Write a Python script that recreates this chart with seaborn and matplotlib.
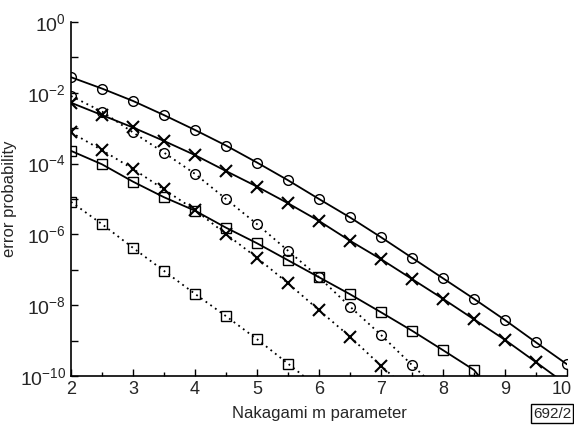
import numpy as np
import pandas as pd
import seaborn as sns
import matplotlib.pyplot as plt
from matplotlib.ticker import FixedLocator, FuncFormatter
from matplotlib.transforms import ScaledTranslation

# Nakagami m values
m_full = [2, 2.5, 3, 3.5, 4, 4.5, 5, 5.5, 6, 6.5, 7, 7.5, 8, 8.5, 9, 9.5, 10]

# log10 of the error probability
solid_circle = [-1.56, -1.88, -2.23, -2.63, -3.05, -3.49, -3.97, -4.47, -5.0,
                -5.52, -6.08, -6.66, -7.24, -7.82, -8.42, -9.05, -9.67]
solid_cross = [-2.28, -2.63, -2.98, -3.36, -3.76, -4.21, -4.65, -5.12, -5.62,
               -6.18, -6.70, -7.26, -7.82, -8.40, -8.98, -9.61, -10.25]
solid_square = [-3.64, -4.02, -4.51, -4.95, -5.33, -5.81, -6.25, -6.73, -7.21,
                -7.69, -8.20, -8.72, -9.27, -9.83, -10.9]
dotted_circle = [-2.09, -2.53, -3.12, -3.69, -4.29, -5.0, -5.71, -6.46, -7.21,
                 -8.04, -8.84, -9.69, -10.5]
dotted_cross = [-3.12, -3.62, -4.15, -4.73, -5.31, -5.99, -6.66, -7.38, -8.14,
                -8.89, -9.71, -10.5]
dotted_square = [-5.08, -5.71, -6.38, -7.03, -7.68, -8.31, -8.96, -9.65, -10.35]

series = [
    (solid_circle, "-", "o"),
    (solid_cross, "-", "x"),
    (solid_square, "-", "s"),
    (dotted_circle, ":", "o"),
    (dotted_cross, ":", "x"),
    (dotted_square, ":", "s"),
]

sns.set_style("ticks")
plt.rcParams["font.family"] = ["Liberation Sans", "DejaVu Sans"]
plt.rcParams["mathtext.fontset"] = "custom"
plt.rcParams["mathtext.rm"] = "Liberation Sans"
plt.rcParams["mathtext.it"] = "Liberation Sans"

fig = plt.figure(figsize=(5.74, 4.25), dpi=100)
ax = fig.add_axes([71 / 574, 1 - 376 / 425, 496 / 574, 354 / 425])

for vals, ls, mk in series:
    df = pd.DataFrame({"m": m_full[:len(vals)], "p": 10.0 ** np.array(vals)})
    kw = dict(linestyle="-", linewidth=1.3) if ls == "-" else \
        dict(dashes=(1, 2.2), linewidth=1.3)
    sns.lineplot(data=df, x="m", y="p", ax=ax, color="black", marker=mk,
                 markersize=7 if mk != "x" else 8,
                 markerfacecolor="none", markeredgecolor="black",
                 markeredgewidth=1.0 if mk != "x" else 1.5, **kw)

ax.set_yscale("log")
ax.set_xlim(2, 10)
ax.set_ylim(1e-10, 1)
ax.yaxis.set_major_locator(FixedLocator([10.0 ** k for k in range(-10, 1)]))
ax.yaxis.set_minor_locator(FixedLocator([]))
ax.yaxis.set_major_formatter(FuncFormatter(
    lambda v, pos: r"$10^{%d}$" % round(np.log10(v)) if round(np.log10(v)) % 2 == 0 else ""))
ax.xaxis.set_major_locator(FixedLocator(range(2, 11)))
ax.xaxis.set_minor_locator(FixedLocator(np.arange(2.5, 10, 1.0)))

ax.tick_params(which="both", direction="in", color="black")
ax.tick_params(axis="x", labelsize=13)
ax.tick_params(axis="y", labelsize=14)
ax.tick_params(which="major", length=5, width=1)
ax.tick_params(which="minor", length=3, width=1)
sns.despine(ax=ax)
for s in ["left", "bottom"]:
    ax.spines[s].set_linewidth(1.2)
    ax.spines[s].set_color("black")

# keep the last x tick label inside the figure
last = ax.xaxis.get_major_ticks()[-1].label1
last.set_transform(last.get_transform() +
                   ScaledTranslation(-4 / 72, 0, fig.dpi_scale_trans))

ax.set_xlabel("Nakagami m parameter", fontsize=12, labelpad=6)
ax.set_ylabel("error probability", fontsize=12, labelpad=2)

fig.text(0.995, 0.01, "692/2", fontsize=11, ha="right", va="bottom",
         bbox=dict(boxstyle="square,pad=0.15", facecolor="white",
                   edgecolor="black", linewidth=1))

fig.savefig("out.png", dpi=100)
